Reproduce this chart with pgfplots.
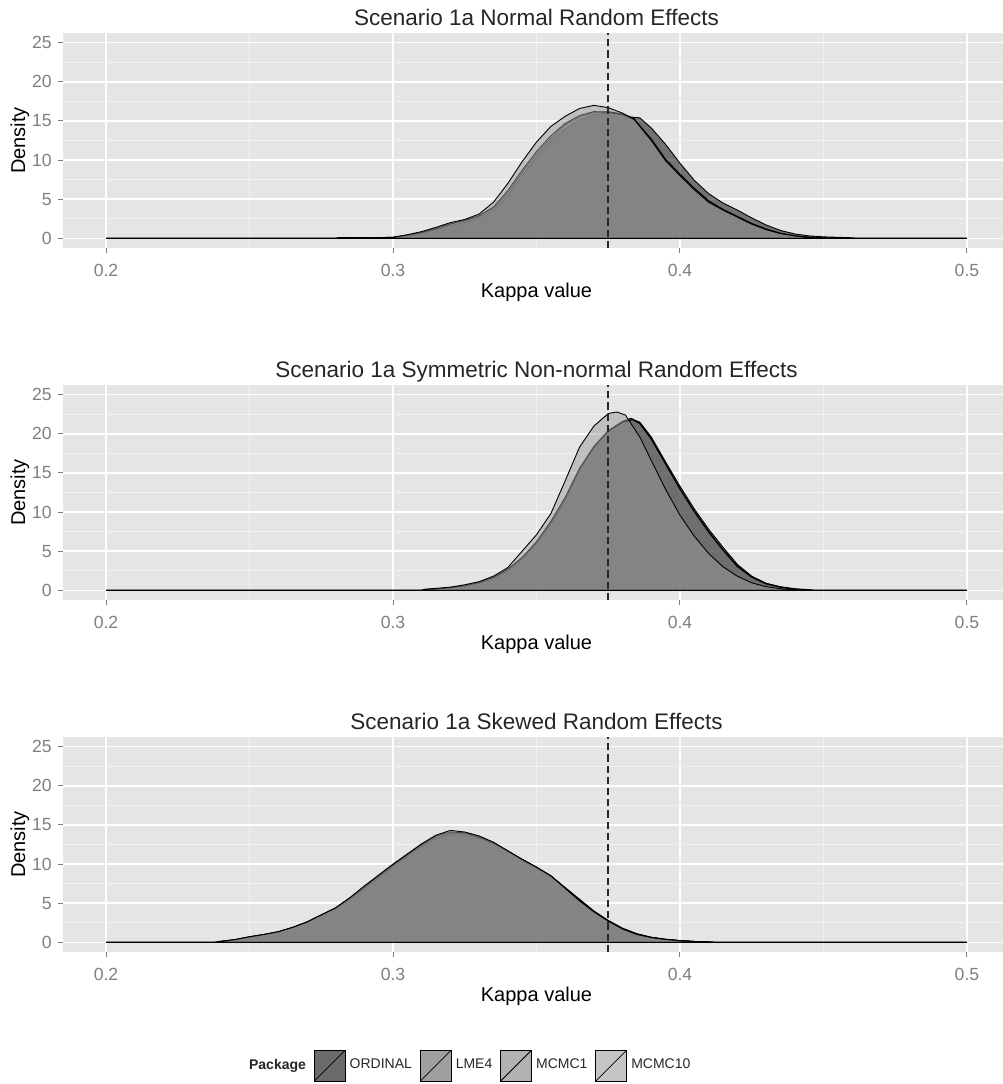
\documentclass[border=0pt]{standalone}
\usepackage{pgfplots}
\pgfplotsset{compat=1.18}
\usepackage{fontspec}
\setmainfont{Liberation Sans}
\definecolor{bggray}{HTML}{E5E5E5}
\definecolor{gridminor}{HTML}{F2F2F2}
\definecolor{tickgray}{HTML}{7F7F7F}
\definecolor{ordc}{HTML}{000000}
\definecolor{lmec}{HTML}{5A5A5A}
\definecolor{mc1c}{HTML}{787878}
\definecolor{mc10c}{HTML}{9B9B9B}
\pgfplotsset{
  keyimg/.style={legend image code/.code={
      \draw[line width=0.4pt, fill opacity=0.58] (0pt,-7.75pt) rectangle (15.5pt,7.75pt);
      \draw[black, line width=0.4pt, fill=none] (0pt,-7.75pt) -- (15.5pt,7.75pt);}},
  ord/.style={fill=ordc, fill opacity=0.5, draw=black, line width=0.45pt, keyimg},
  lme/.style={fill=lmec, fill opacity=0.5, draw=black, line width=0.45pt, keyimg},
  mc1/.style={fill=mc1c, fill opacity=0.5, draw=black, line width=0.45pt, keyimg},
  mc10/.style={fill=mc10c, fill opacity=0.5, draw=black, line width=0.45pt, keyimg},
  panel/.style={
    scale only axis, width=473.5pt, height=107.5pt, anchor=north west,
    xmin=0.185, xmax=0.515, ymin=-1.25, ymax=26.25,
    axis background/.style={fill=bggray},
    axis line style={draw=none},
    xtick={0.2,0.3,0.4,0.5}, xticklabels={0.2,0.3,0.4,0.5},
    ytick={0,5,10,15,20,25}, yticklabels={0,5,10,15,20,25},
    minor xtick={0.25,0.35,0.45}, minor ytick={2.5,7.5,12.5,17.5,22.5},
    grid=both,
    major grid style={white, line width=0.7pt},
    minor grid style={gridminor, line width=0.35pt},
    tick align=outside, major tick length=2.5pt, minor tick length=0pt,
    tick pos=left,
    major tick style={tickgray, line width=0.5pt},
    tick label style={font=\fontsize{8.8}{10}\selectfont, text=tickgray},
    xticklabel style={anchor=center, yshift=-8.6pt},
    yticklabel style={anchor=east, inner sep=0pt, xshift=-3pt},
    every axis title shift=0pt,
    title style={at={(0.5,1)}, anchor=base, yshift=4pt, inner sep=0pt, font=\fontsize{11.25}{13}\selectfont, text=black!85},
    every axis x label/.style={at={(axis description cs:0.5,-0.205)}, anchor=center, font=\fontsize{10}{12}\selectfont},
    every axis y label/.style={at={(axis description cs:-0.0455,0.5)}, rotate=90, anchor=center, font=\fontsize{10}{12}\selectfont},
    xlabel={Kappa value}, ylabel={Density},
  }
}
\begin{document}
\begin{tikzpicture}
% ---------------- Panel 1 ----------------
\begin{axis}[panel, at={(31.5pt,-16.5pt)}, title={Scenario 1a Normal Random Effects}]
\addplot[ord] coordinates {(0.2,0) (0.28,0) (0.281,0.08) (0.30,0.1) (0.305,0.3) (0.31,0.6) (0.315,1.1) (0.32,1.6) (0.325,2.0) (0.33,2.6) (0.335,3.5) (0.34,5.4) (0.345,8.0) (0.35,10.4) (0.355,12.4) (0.36,14.0) (0.365,15.1) (0.37,15.8) (0.375,16.1) (0.38,15.8) (0.383,15.5) (0.386,15.4) (0.39,14.1) (0.395,12.0) (0.40,9.6) (0.405,7.4) (0.41,5.7) (0.415,4.5) (0.42,3.6) (0.425,2.6) (0.43,1.7) (0.435,1.0) (0.44,0.55) (0.445,0.3) (0.45,0.18) (0.455,0.12) (0.46,0.06) (0.461,0) (0.5,0)} \closedcycle;
\addplot[lme] coordinates {(0.2,0) (0.285,0) (0.286,0.06) (0.30,0.1) (0.305,0.35) (0.31,0.7) (0.315,1.2) (0.32,1.8) (0.325,2.2) (0.33,2.8) (0.335,3.8) (0.34,5.8) (0.345,8.4) (0.35,10.8) (0.355,12.8) (0.36,14.5) (0.365,15.5) (0.37,16.1) (0.375,16.2) (0.38,15.9) (0.384,15.3) (0.39,12.6) (0.395,10.0) (0.40,8.1) (0.405,6.3) (0.41,4.7) (0.415,3.6) (0.42,2.7) (0.425,1.8) (0.43,1.1) (0.435,0.6) (0.44,0.3) (0.445,0.12) (0.45,0.04) (0.451,0) (0.5,0)} \closedcycle;
\addplot[mc1] coordinates {(0.2,0) (0.29,0) (0.291,0.05) (0.30,0.12) (0.305,0.4) (0.31,0.75) (0.315,1.25) (0.32,1.85) (0.325,2.3) (0.33,2.9) (0.335,4.0) (0.34,6.1) (0.345,8.7) (0.35,11.1) (0.355,13.1) (0.36,14.7) (0.365,15.7) (0.37,16.2) (0.375,16.1) (0.38,15.8) (0.384,15.2) (0.39,12.7) (0.395,10.1) (0.40,8.2) (0.405,6.4) (0.41,4.8) (0.415,3.7) (0.42,2.8) (0.425,1.9) (0.43,1.2) (0.435,0.65) (0.44,0.3) (0.445,0.12) (0.45,0.04) (0.451,0) (0.5,0)} \closedcycle;
\addplot[mc10] coordinates {(0.2,0) (0.29,0) (0.291,0.06) (0.30,0.12) (0.305,0.45) (0.31,0.85) (0.315,1.4) (0.32,2.0) (0.325,2.4) (0.33,3.1) (0.335,4.6) (0.34,7.0) (0.345,9.8) (0.35,12.3) (0.355,14.3) (0.36,15.6) (0.365,16.6) (0.37,17.0) (0.375,16.7) (0.38,16.0) (0.384,15.2) (0.39,12.5) (0.395,9.9) (0.40,8.0) (0.405,6.2) (0.41,4.6) (0.415,3.6) (0.42,2.7) (0.425,1.8) (0.43,1.1) (0.435,0.6) (0.44,0.3) (0.445,0.1) (0.45,0.03) (0.451,0) (0.5,0)} \closedcycle;
\addplot[black, line width=0.6pt, forget plot] coordinates {(0.2,0) (0.5,0)};
\addplot[black!85, line width=0.8pt, dash pattern=on 3.6pt off 2pt, forget plot] coordinates {(0.375,-1.25) (0.375,26.25)};
\end{axis}
% ---------------- Panel 2 ----------------
\begin{axis}[panel, at={(31.5pt,-192.5pt)}, title={Scenario 1a Symmetric Non-normal Random Effects}]
\addplot[ord] coordinates {(0.2,0) (0.31,0) (0.311,0.1) (0.32,0.3) (0.325,0.55) (0.33,0.9) (0.335,1.5) (0.34,2.5) (0.345,4.0) (0.35,6.0) (0.355,8.5) (0.36,11.5) (0.365,15.3) (0.37,18.2) (0.375,20.2) (0.38,21.4) (0.383,21.9) (0.386,21.5) (0.39,19.6) (0.395,16.4) (0.40,13.3) (0.405,10.4) (0.41,7.8) (0.415,5.5) (0.42,3.3) (0.425,1.8) (0.43,0.9) (0.435,0.45) (0.44,0.2) (0.445,0.08) (0.447,0) (0.5,0)} \closedcycle;
\addplot[lme] coordinates {(0.2,0) (0.312,0) (0.313,0.1) (0.32,0.3) (0.325,0.55) (0.33,0.95) (0.335,1.6) (0.34,2.6) (0.345,4.1) (0.35,6.1) (0.355,8.6) (0.36,11.6) (0.365,15.4) (0.37,18.3) (0.375,20.4) (0.38,21.6) (0.383,22.0) (0.386,21.4) (0.39,19.4) (0.395,16.2) (0.40,13.0) (0.405,10.1) (0.41,7.5) (0.415,5.2) (0.42,3.1) (0.425,1.7) (0.43,0.85) (0.435,0.4) (0.44,0.15) (0.443,0) (0.5,0)} \closedcycle;
\addplot[mc1] coordinates {(0.2,0) (0.312,0) (0.313,0.1) (0.32,0.32) (0.325,0.6) (0.33,1.0) (0.335,1.65) (0.34,2.7) (0.345,4.2) (0.35,6.2) (0.355,8.8) (0.36,11.9) (0.365,15.6) (0.37,18.4) (0.375,20.4) (0.38,21.5) (0.3835,21.8) (0.386,21.3) (0.39,19.3) (0.395,16.1) (0.40,12.9) (0.405,10.0) (0.41,7.4) (0.415,5.1) (0.42,3.0) (0.425,1.65) (0.43,0.8) (0.435,0.38) (0.44,0.14) (0.443,0) (0.5,0)} \closedcycle;
\addplot[mc10] coordinates {(0.2,0) (0.31,0) (0.311,0.12) (0.32,0.4) (0.325,0.7) (0.33,1.1) (0.335,1.8) (0.34,2.9) (0.345,5.0) (0.35,7.1) (0.355,9.8) (0.36,14.0) (0.365,18.3) (0.37,21.0) (0.375,22.6) (0.378,22.8) (0.381,22.4) (0.386,19.6) (0.39,16.6) (0.395,12.9) (0.40,9.6) (0.405,6.9) (0.41,4.7) (0.415,3.0) (0.42,1.8) (0.425,0.95) (0.43,0.45) (0.435,0.2) (0.44,0.08) (0.442,0) (0.5,0)} \closedcycle;
\addplot[black, line width=0.6pt, forget plot] coordinates {(0.2,0) (0.5,0)};
\addplot[black!85, line width=0.8pt, dash pattern=on 3.6pt off 2pt, forget plot] coordinates {(0.375,-1.25) (0.375,26.25)};
\end{axis}
% ---------------- Panel 3 ----------------
\begin{axis}[panel, at={(31.5pt,-368.5pt)}, title={Scenario 1a Skewed Random Effects},
  legend style={at={(axis description cs:0.4295,-0.528)}, anchor=center, draw=none, fill=none,
    legend columns=-1, font=\fontsize{7}{8}\selectfont, text=black!85,
    /tikz/every even column/.append style={column sep=2pt}},
  legend entries={\textbf{Package},ORDINAL,LME4,MCMC1,MCMC10}]
\addlegendimage{empty legend}
\addplot[ord] coordinates {(0.2,0) (0.24,0) (0.241,0.08) (0.245,0.3) (0.25,0.65) (0.255,0.95) (0.26,1.3) (0.265,1.85) (0.27,2.5) (0.275,3.4) (0.28,4.3) (0.285,5.5) (0.29,6.9) (0.295,8.3) (0.30,9.7) (0.305,11.0) (0.31,12.2) (0.315,13.2) (0.32,13.7) (0.325,13.7) (0.33,13.3) (0.335,12.6) (0.34,11.6) (0.345,10.6) (0.35,9.6) (0.355,8.5) (0.36,7.0) (0.365,5.5) (0.37,4.0) (0.375,2.8) (0.38,1.8) (0.385,1.1) (0.39,0.65) (0.395,0.4) (0.40,0.22) (0.405,0.1) (0.41,0.04) (0.412,0) (0.5,0)} \closedcycle;
\addplot[lme] coordinates {(0.2,0) (0.239,0) (0.24,0.09) (0.245,0.32) (0.25,0.68) (0.255,0.98) (0.26,1.32) (0.265,1.88) (0.27,2.55) (0.275,3.45) (0.28,4.35) (0.285,5.6) (0.29,7.0) (0.295,8.4) (0.30,9.8) (0.305,11.1) (0.31,12.4) (0.315,13.4) (0.32,13.9) (0.325,13.9) (0.33,13.4) (0.335,12.7) (0.34,11.6) (0.345,10.5) (0.35,9.5) (0.355,8.4) (0.36,6.9) (0.365,5.4) (0.37,3.9) (0.375,2.7) (0.38,1.7) (0.385,1.0) (0.39,0.6) (0.395,0.35) (0.40,0.2) (0.405,0.09) (0.41,0.03) (0.411,0) (0.5,0)} \closedcycle;
\addplot[mc1] coordinates {(0.2,0) (0.238,0) (0.239,0.1) (0.245,0.34) (0.25,0.7) (0.255,1.0) (0.26,1.34) (0.265,1.9) (0.27,2.6) (0.275,3.5) (0.28,4.4) (0.285,5.7) (0.29,7.1) (0.295,8.5) (0.30,9.9) (0.305,11.2) (0.31,12.5) (0.315,13.6) (0.32,14.1) (0.325,14.0) (0.33,13.5) (0.335,12.7) (0.34,11.7) (0.345,10.6) (0.35,9.6) (0.355,8.5) (0.36,6.9) (0.365,5.3) (0.37,3.9) (0.375,2.7) (0.38,1.7) (0.385,1.0) (0.39,0.6) (0.395,0.35) (0.40,0.2) (0.405,0.1) (0.41,0.04) (0.412,0) (0.5,0)} \closedcycle;
\addplot[mc10] coordinates {(0.2,0) (0.238,0) (0.24,0.1) (0.245,0.35) (0.25,0.7) (0.255,1.0) (0.26,1.35) (0.265,1.9) (0.27,2.6) (0.275,3.5) (0.28,4.4) (0.285,5.7) (0.29,7.2) (0.295,8.6) (0.30,10.0) (0.305,11.3) (0.31,12.6) (0.315,13.7) (0.32,14.3) (0.325,14.1) (0.33,13.6) (0.335,12.8) (0.34,11.7) (0.345,10.6) (0.35,9.6) (0.355,8.5) (0.36,6.9) (0.365,5.3) (0.37,3.9) (0.375,2.7) (0.38,1.7) (0.385,1.0) (0.39,0.6) (0.395,0.35) (0.40,0.2) (0.405,0.1) (0.41,0.04) (0.412,0) (0.5,0)} \closedcycle;
\addplot[black, line width=0.6pt, forget plot] coordinates {(0.2,0) (0.5,0)};
\addplot[black!85, line width=0.8pt, dash pattern=on 3.6pt off 2pt, forget plot] coordinates {(0.375,-1.25) (0.375,26.25)};
\end{axis}
\pgfresetboundingbox
\path[use as bounding box] (0pt,0pt) rectangle (501.5pt,-542pt);
\end{tikzpicture}
\end{document}
